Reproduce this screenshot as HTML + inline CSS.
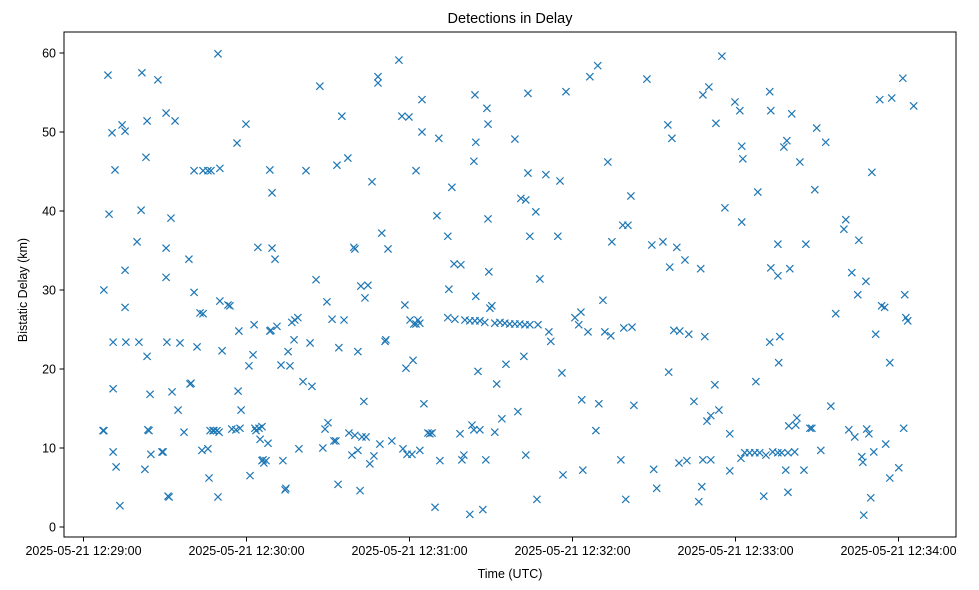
<!DOCTYPE html>
<html><head><meta charset="utf-8">
<style>
body{margin:0;background:#fff;}
svg{display:block;font-family:"Liberation Sans","DejaVu Sans",sans-serif;}
</style></head>
<body>
<svg id="chart" width="979" height="590" viewBox="0 0 979 590" xmlns="http://www.w3.org/2000/svg">
<rect width="979" height="590" fill="#fff"/>
<text x="510" y="23" text-anchor="middle" font-size="14.5">Detections in Delay</text>
<text x="510" y="578" text-anchor="middle" font-size="12.5">Time (UTC)</text>
<text transform="translate(27,290) rotate(-90)" text-anchor="middle" font-size="12.5">Bistatic Delay (km)</text>
<g id="marks"></g>
<g id="axes"></g>
<rect x="64" y="32" width="892" height="505" fill="none" stroke="#000" stroke-width="1"/>
</svg>
<script>
// seconds since 12:29:00 UTC
const times = [7.5,7.2,7.5,9.0,9.4,10.5,10.9,10.9,10.9,11.6,12.0,13.4,14.2,15.3,15.3,15.3,15.6,19.7,20.4,21.2,21.5,22.6,23.0,23.4,23.4,23.7,24.1,24.5,24.8,27.4,28.9,29.3,30.4,30.4,30.4,30.7,31.1,31.5,32.2,32.6,33.7,34.8,35.5,37.0,38.8,39.2,39.6,40.7,40.7,41.8,42.9,43.6,44.0,44.0,45.8,45.8,46.2,46.6,46.9,47.7,48.0,49.1,49.5,49.9,50.2,49.5,50.2,51.0,53.2,53.9,54.6,56.1,56.5,56.9,57.2,57.6,58.0,59.8,60.9,61.3,62.4,62.8,63.1,63.5,64.2,64.6,65.0,65.7,65.7,66.1,66.4,67.2,67.9,68.6,68.6,69.0,69.4,69.4,70.5,71.2,72.7,73.4,74.2,74.5,75.3,76.0,76.7,77.5,77.8,78.9,79.3,80.8,81.9,83.4,84.1,85.6,87.0,88.1,88.9,89.6,90.0,91.5,92.2,92.9,93.3,93.7,94.0,95.1,95.9,97.3,97.7,98.8,99.5,99.9,99.9,101.0,101.0,101.8,102.1,103.2,103.6,104.7,105.4,106.2,106.9,108.4,108.4,109.1,109.8,111.0,111.3,112.1,113.5,116.1,117.2,117.6,118.3,118.7,119.1,119.8,120.2,121.3,120.9,121.6,122.4,122.4,123.1,123.8,123.8,124.6,124.6,125.3,126.8,127.5,128.3,129.4,130.1,130.8,131.2,134.1,134.1,134.5,135.6,136.4,138.6,138.9,139.3,140.0,142.2,143.0,143.7,143.7,144.1,144.4,144.4,145.2,145.9,147.0,148.1,148.5,148.9,148.9,149.2,149.6,150.3,151.4,152.1,153.3,154.0,155.5,158.8,159.9,161.0,162.1,162.8,162.8,163.6,163.6,164.3,166.5,166.9,167.3,168.0,170.2,171.3,172.0,174.6,175.4,176.1,176.5,177.6,180.9,182.3,183.1,183.4,183.8,185.7,186.4,188.6,189.3,189.7,191.2,191.9,193.0,194.1,194.5,197.8,198.5,198.9,199.6,200.4,201.5,201.9,202.6,207.4,209.2,209.9,211.0,213.3,215.1,215.8,215.4,216.6,217.3,218.4,219.2,219.5,221.4,222.1,222.8,224.7,226.5,227.2,227.6,228.0,228.0,228.7,229.5,230.2,230.9,230.9,232.4,232.8,233.9,235.0,236.1,237.9,237.9,239.8,241.6,242.0,242.3,242.3,242.7,247.5,248.2,250.4,251.2,252.6,253.0,252.6,253.0,253.7,255.6,255.6,255.9,256.3,257.0,257.8,258.5,259.3,258.9,259.6,259.3,260.0,260.7,262.2,262.6,263.7,265.2,265.9,267.4,268.1,269.2,269.9,271.4,273.2,275.1,276.9,279.9,280.6,281.7,282.8,283.9,285.0,285.4,286.5,286.9,287.2,288.0,288.3,289.1,289.8,290.2,290.9,291.6,293.1,293.8,294.9,295.3,296.8,296.8,297.5,300.1,301.6,301.9,302.3,302.7,303.4,305.6,
136.7,140.4,142.2,144.1,145.9,147.7,151.4,155.1,156.9,158.8,160.6,162.5,164.3,243.4,245.2,247.1,248.9,255.6,261.8,102.5,104.0];
const delays = [30.0,12.2,12.2,57.2,39.6,49.9,23.4,17.5,9.5,45.2,7.6,2.7,50.9,50.1,32.5,27.8,23.4,36.1,23.4,40.1,57.5,7.3,46.8,51.4,21.6,12.3,12.2,16.8,9.2,56.6,9.5,9.5,52.4,31.6,35.3,23.4,3.9,3.8,39.1,17.1,51.4,14.8,23.3,12.0,33.9,18.1,18.2,45.1,29.7,22.8,27.1,9.7,27.0,45.1,9.9,45.1,6.2,12.2,45.1,12.2,12.2,12.2,59.9,12.0,45.4,3.8,28.6,22.3,28.1,28.0,12.4,12.3,48.6,17.2,24.8,12.5,14.8,51.0,20.4,6.5,21.8,25.6,12.5,12.2,35.4,12.5,11.1,12.7,8.4,8.5,8.1,8.4,10.6,24.8,45.2,24.9,42.3,35.3,33.9,25.4,20.5,8.4,4.7,4.9,22.2,20.4,25.9,23.7,26.2,26.5,9.9,18.4,45.1,23.3,17.8,31.3,55.8,10.0,12.4,28.5,13.2,26.3,10.9,10.9,45.8,5.4,22.7,52.0,26.2,46.7,11.9,9.1,35.4,35.2,11.6,9.7,22.2,4.6,30.5,15.9,29.0,30.6,8.0,43.7,9.0,57.0,56.2,10.5,37.2,23.5,23.7,35.2,10.9,59.1,52.0,9.9,28.1,20.1,9.2,51.9,26.2,21.1,9.2,25.7,45.1,25.7,26.2,9.7,25.8,54.1,50.0,15.6,11.9,11.8,11.9,2.5,39.4,49.2,8.4,26.5,36.8,30.1,43.0,33.3,11.8,33.2,8.5,9.1,1.6,12.9,46.3,12.3,54.7,48.7,29.2,19.7,12.3,2.2,8.5,53.0,51.0,39.0,32.3,27.7,28.0,12.0,18.1,25.9,13.7,20.6,49.1,14.6,41.6,21.6,41.4,9.1,54.9,44.8,36.8,39.9,3.5,25.6,31.4,44.6,24.7,23.5,36.8,43.8,19.5,6.6,55.1,26.5,25.6,27.2,16.1,7.2,24.7,57.0,12.2,58.4,15.6,28.7,24.7,46.2,24.2,36.1,8.5,38.2,25.2,3.5,38.2,41.9,25.3,15.4,56.7,35.7,7.3,4.9,36.1,50.9,32.9,19.6,49.2,24.9,35.4,8.1,24.8,33.8,8.4,24.4,15.9,3.2,32.7,5.1,54.7,8.5,24.1,13.4,55.7,14.1,8.5,18.0,51.1,14.8,59.6,40.4,7.1,11.8,53.8,52.7,8.7,38.6,48.2,46.6,18.4,42.4,3.9,9.1,55.1,52.7,23.4,32.8,9.5,35.8,31.8,20.8,24.1,9.4,48.1,7.2,9.4,48.9,12.8,4.4,32.7,52.3,12.9,13.8,46.2,7.2,35.8,12.5,12.5,42.7,50.5,9.7,48.7,15.3,27.0,37.7,38.9,12.3,32.2,11.4,29.4,36.3,8.9,8.2,1.5,31.1,12.4,11.8,3.7,44.9,9.5,24.4,54.1,28.0,27.8,10.5,6.2,20.8,54.3,7.5,56.8,12.5,29.4,26.5,26.1,53.3,
26.3,26.2,26.1,26.1,26.1,25.9,25.8,25.8,25.7,25.7,25.7,25.6,25.6,9.4,9.4,9.4,9.4,9.4,9.5,11.4,11.4];
const xTickSecs = [0,60,120,180,240,300];
const xTickLabels = ["2025-05-21 12:29:00","2025-05-21 12:30:00","2025-05-21 12:31:00","2025-05-21 12:32:00","2025-05-21 12:33:00","2025-05-21 12:34:00"];
const yTicks = [0,10,20,30,40,50,60];

const NS="http://www.w3.org/2000/svg";
function xScale(t){return 83.5 + t*163/60;}
function yScale(d){return 527 - d*7.9;}
const marks=document.getElementById('marks');
const axes=document.getElementById('axes');
function mk(tag,attrs,parent){const e=document.createElementNS(NS,tag);for(const k in attrs)e.setAttribute(k,attrs[k]);parent.appendChild(e);return e;}
const n=Math.min(times.length,delays.length);
for(let i=0;i<n;i++){
  const cx=xScale(times[i]), cy=yScale(delays[i]), s=3.6;
  const p=mk('path',{d:`M${cx-s},${cy-s}L${cx+s},${cy+s}M${cx-s},${cy+s}L${cx+s},${cy-s}`,stroke:'#1f77b4','stroke-width':1.2,fill:'none'},marks);
  
  
}
xTickSecs.forEach((s,i)=>{
  const x=xScale(s);
  const l=mk('line',{x1:x,x2:x,y1:537,y2:541.5,stroke:'#000','stroke-width':1},axes);
  
  
  const t=mk('text',{x:x,y:555,'text-anchor':'middle','font-size':12.5},axes);
  t.textContent=xTickLabels[i];
  
  
});
yTicks.forEach(v=>{
  const y=yScale(v);
  const l=mk('line',{x1:59.5,x2:64,y1:y,y2:y,stroke:'#000','stroke-width':1},axes);
  
  
  const t=mk('text',{x:56,y:y+4.5,'text-anchor':'end','font-size':12.5},axes);
  t.textContent=String(v);
  
  
});
</script>
</body></html>
